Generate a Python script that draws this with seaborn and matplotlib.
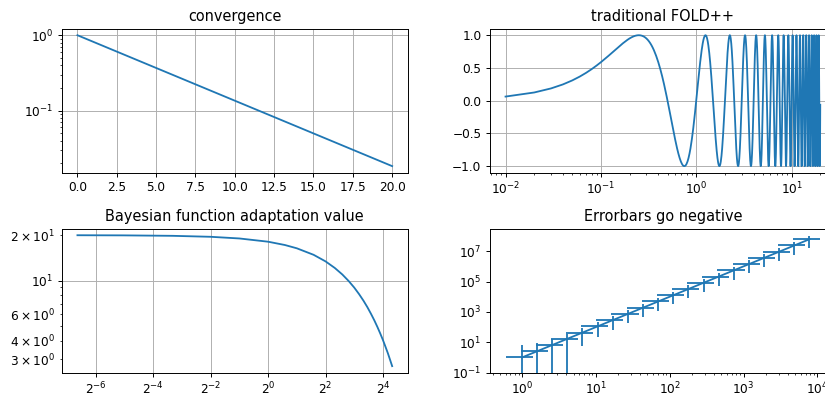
import numpy as np
import matplotlib
matplotlib.use("Agg")
import matplotlib.pyplot as plt
import seaborn as sns

# panel 1: straight line on a log-y axis, end points
conv_t = [0.0, 20.0]
conv_y = [1.0, 0.0183]

# panel 2: sine wave on a log-x axis (t from 0.01 to 20, one cycle per unit)
fold_start, fold_stop, fold_step = 0.01, 20.0, 0.01
fold_cycles_per_unit = 1.0

# panel 3: decaying curve
bayes_t = [0.01, 0.03, 0.1, 0.25, 0.5, 1, 1.5, 2, 3, 4, 5, 6, 7, 8, 9, 10,
           11, 12, 13, 14, 15, 16, 17, 18, 19, 20]
bayes_y = [19.98, 19.94, 19.80, 19.51, 19.02, 18.10, 17.21, 16.37, 14.82,
           13.41, 12.13, 10.98, 9.93, 8.99, 8.13, 7.36, 6.66, 6.02, 5.45,
           4.93, 4.46, 4.04, 3.65, 3.31, 2.99, 2.71]

# panel 4: points with error bars
err_x = [1.0, 1.60, 2.57, 4.12, 6.60, 10.6, 16.9, 27.1, 43.5, 69.7, 111.7,
         179, 287, 460, 737, 1181, 1893, 3034, 4862, 7792]
err_y = [1.0, 2.56, 6.6, 17.0, 43.6, 112, 286, 734, 1892, 4858, 12477,
         32041, 82369, 211600, 543169, 1.395e6, 3.583e6, 9.205e6, 2.364e7,
         6.07e7]
xerr_frac = 0.4
yerr_const, yerr_frac = 5.0, 0.75

DPI = 87
fig, axes = plt.subplots(
    2, 2, figsize=(826 / DPI, 394 / DPI), dpi=DPI,
    gridspec_kw=dict(left=0.0747, right=1.0121, top=0.9272, bottom=0.0541,
                     wspace=0.2366, hspace=0.389),
)
(ax1, ax2), (ax3, ax4) = axes

# convergence
sns.lineplot(x=conv_t, y=conv_y, ax=ax1, estimator=None)
ax1.set_yscale("log")
ax1.set_title("convergence")
ax1.grid(True)

# traditional FOLD++
t = np.arange(fold_start, fold_stop, fold_step)
wave = np.sin(2 * np.pi * fold_cycles_per_unit * t)
sns.lineplot(x=t, y=wave, ax=ax2, estimator=None, sort=False)
ax2.set_xscale("log")
ax2.set_title("traditional FOLD++")
ax2.grid(True)

# Bayesian function adaptation value
sns.lineplot(x=bayes_t, y=bayes_y, ax=ax3, estimator=None)
ax3.set_xscale("log", base=2)
ax3.set_yscale("log")
ax3.set_title("Bayesian function adaptation value")
ax3.grid(True)

# Errorbars go negative
ex = np.array(err_x)
ey = np.array(err_y)
xerr = xerr_frac * ex
yerr = yerr_const + yerr_frac * ey
ax4.set_xscale("log", nonpositive="clip")
ax4.set_yscale("log", nonpositive="clip")
sns.lineplot(x=ex, y=ey, ax=ax4, estimator=None)
ax4.errorbar(ex, ey, xerr=xerr, yerr=yerr, fmt="none", ecolor="C0")

# autoscale with the error bars included (5% margins in log space)
lo, hi = np.log10((ex - xerr).min()), np.log10((ex + xerr).max())
pad = 0.05 * (hi - lo)
ax4.set_xlim(10 ** (lo - pad), 10 ** (hi + pad))
ybot = 0.1
ytop = np.log10((ey + yerr).max())
ax4.set_ylim(ybot, 10 ** (ytop + 0.05 * (ytop - np.log10(ybot))))
ax4.set_title("Errorbars go negative")

for ax in axes.flat:
    ax.set_xlabel("")
    ax.set_ylabel("")

plt.savefig("out.png", dpi=DPI)
plt.close()
